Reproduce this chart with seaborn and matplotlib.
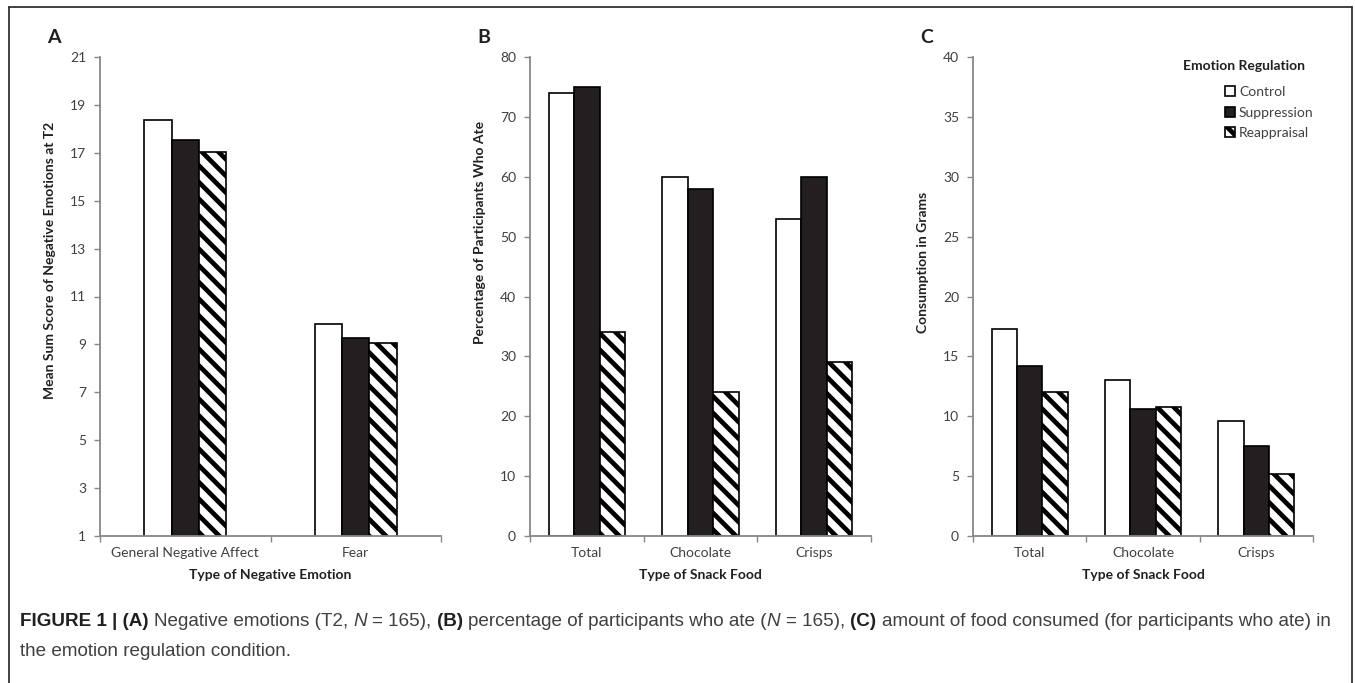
import matplotlib
matplotlib.use("Agg")
import matplotlib.pyplot as plt
import seaborn as sns
import pandas as pd
from matplotlib.lines import Line2D

# emotion regulation groups
conditions = ["Control", "Suppression", "Reappraisal"]

# panel A - negative emotions at T2
emotion_types = ["General Negative Affect", "Fear"]
emotion_control = [18.35, 9.87]
emotion_suppression = [17.52, 9.25]
emotion_reappraisal = [17.05, 9.05]
emotion_ticks = list(range(1, 22, 2))

# panel B - percentage of participants who ate
snack_types = ["Total", "Chocolate", "Crisps"]
ate_control = [74, 60, 53]
ate_suppression = [75, 58, 60]
ate_reappraisal = [34, 24, 29]
ate_ticks = list(range(0, 81, 10))

# panel C - consumption in grams
grams_control = [17.3, 13.0, 9.6]
grams_suppression = [14.2, 10.6, 7.5]
grams_reappraisal = [12.0, 10.8, 5.2]
grams_ticks = list(range(0, 41, 5))

# caption pieces: (text, style, space after?)
caption_line1 = [("FIGURE 1 | (A)", "bold"), ("Negative emotions (T2,", "normal"), ("N", "italic"),
                 ("= 165),", "normal"), ("(B)", "bold"),
                 ("percentage of participants who ate (", "normal", False),
                 ("N", "italic"), ("= 165),", "normal"), ("(C)", "bold"),
                 ("amount of food consumed (for participants who ate) in", "normal")]
caption_line2 = [("the emotion regulation condition.", "normal")]

sns.set_theme(style="ticks")
plt.rcParams["font.family"] = ["Lato", "DejaVu Sans"]
plt.rcParams["hatch.color"] = "black"
plt.rcParams["hatch.linewidth"] = 3.4

AXIS_GRAY = "#878787"
TEXT_GRAY = "#404040"
palette = {"Control": "white", "Suppression": "#231f20", "Reappraisal": "white"}


def make_df(cats, control, suppression, reappraisal):
    rows = []
    for name, vals in zip(conditions, [control, suppression, reappraisal]):
        for c, v in zip(cats, vals):
            rows.append({"type": c, "condition": name, "value": v})
    return pd.DataFrame(rows)


def draw_panel(ax, df, cats, ticks, ylabel, xlabel, width, ylabel_y, letter):
    sns.barplot(data=df, x="type", y="value", hue="condition", order=cats,
                hue_order=conditions, palette=palette, saturation=1,
                edgecolor="black", linewidth=1.2, width=width,
                errorbar=None, legend=False, ax=ax)
    for bar in ax.containers[2]:
        bar.set_hatch("\\\\")
    n = len(cats)
    ax.set_xlim(-0.5, n - 0.5)
    ax.set_ylim(ticks[0], ticks[-1])
    ax.set_yticks(ticks)
    ax.set_xticks(range(n))
    ax.set_xticks([i - 0.5 for i in range(n + 1)], minor=True)
    ax.tick_params(axis="x", which="major", length=0, pad=8, labelsize=10, labelcolor=TEXT_GRAY)
    ax.tick_params(axis="x", which="minor", length=4, width=1, color=AXIS_GRAY, direction="out")
    ax.tick_params(axis="y", length=4, width=1, color=AXIS_GRAY, direction="out", pad=6,
                   labelsize=10, labelcolor=TEXT_GRAY)
    for side in ["top", "right"]:
        ax.spines[side].set_visible(False)
    for side in ["left", "bottom"]:
        ax.spines[side].set_color(AXIS_GRAY)
        ax.spines[side].set_linewidth(1.3)
    ax.set_ylabel(ylabel, fontsize=10, fontweight="bold", color="#231f20")
    ax.set_xlabel(xlabel, fontsize=10, fontweight="bold", color="#231f20")
    ax.yaxis.set_label_coords(-0.128, ylabel_y)
    ax.xaxis.set_label_coords(0.5, -0.068)
    ax.text(-0.135, 1.04, letter, transform=ax.transAxes, fontsize=14, fontweight="bold",
            color="#231f20", ha="center", va="center")


fig = plt.figure(figsize=(13.55, 6.83), dpi=100)
W, H = 1355, 683
axA = fig.add_axes([100 / W, (H - 536) / H, 341 / W, 479 / H])
axB = fig.add_axes([530 / W, (H - 536) / H, 341 / W, 479 / H])
axC = fig.add_axes([973 / W, (H - 536) / H, 340 / W, 479 / H])

draw_panel(axA, make_df(emotion_types, emotion_control, emotion_suppression, emotion_reappraisal),
           emotion_types, emotion_ticks, "Mean Sum Score of Negative Emotions at T2",
           "Type of Negative Emotion", 0.48, 0.576, "A")
draw_panel(axB, make_df(snack_types, ate_control, ate_suppression, ate_reappraisal),
           snack_types, ate_ticks, "Percentage of Participants Who Ate",
           "Type of Snack Food", 0.67, 0.633, "B")
draw_panel(axC, make_df(snack_types, grams_control, grams_suppression, grams_reappraisal),
           snack_types, grams_ticks, "Consumption in Grams",
           "Type of Snack Food", 0.67, 0.572, "C")

# legend in panel C
axC.text((1183 - 973) / 340, (536 - 66) / 479, "Emotion Regulation", transform=axC.transAxes,
         fontsize=10, fontweight="bold", color="#231f20", ha="left", va="center")
axC.legend(handles=list(axC.containers), labels=conditions, loc="upper left",
           bbox_to_anchor=((1225 - 973) / 340, (536 - 86) / 479), frameon=False,
           borderaxespad=0, borderpad=0, handlelength=0.75, handleheight=0.75,
           handletextpad=0.25, labelspacing=0.62, fontsize=10, labelcolor=TEXT_GRAY)

# outer frame
for xs, ys in [([9, 1352], [7, 7]), ([9, 9], [7, 683]), ([1352, 1352], [7, 683])]:
    fig.add_artist(Line2D([x / W for x in xs], [1 - y / H for y in ys], color="#222222",
                          linewidth=1.2, transform=fig.transFigure))

# caption with mixed styles
renderer = fig.canvas.get_renderer()
cap_family = ["Liberation Sans Narrow", "Liberation Sans", "DejaVu Sans"]


def style_kw(style):
    if style == "bold":
        return {"fontweight": "bold", "color": "#231f20"}
    if style == "italic":
        return {"fontstyle": "italic", "color": TEXT_GRAY}
    return {"color": TEXT_GRAY}


def draw_line(tokens, x0, y, fs):
    probe1 = fig.text(0, 0, "x x", fontsize=fs, family=cap_family)
    probe2 = fig.text(0, 0, "xx", fontsize=fs, family=cap_family)
    space = probe1.get_window_extent(renderer).width - probe2.get_window_extent(renderer).width
    probe1.remove()
    probe2.remove()
    x = x0
    texts = []
    for tok in tokens:
        t = fig.text(x / W, 1 - y / H, tok[0], fontsize=fs, family=cap_family, va="center",
                     ha="left", **style_kw(tok[1]))
        texts.append(t)
        x += t.get_window_extent(renderer).width
        if len(tok) < 3 or tok[2]:
            x += space
    return texts, x - space


fs = 11.5
texts, end = draw_line(caption_line1, 20, 622, fs)
for t in texts:
    t.remove()
fs = fs * (1338 - 20) / (end - 20)
draw_line(caption_line1, 20, 622, fs)
draw_line(caption_line2, 20, 651, fs)

fig.savefig("out.png", dpi=100)
